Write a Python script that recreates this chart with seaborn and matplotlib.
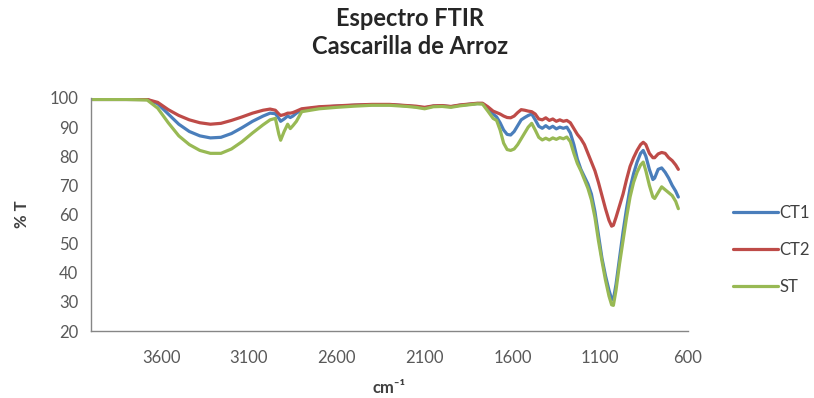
import numpy as np
import pandas as pd
import matplotlib
matplotlib.use("Agg")
import matplotlib.pyplot as plt
import seaborn as sns

# Wavenumber grid (cm-1), shared by all three spectra
wavenumber = [
    4000, 3800, 3680, 3620, 3560, 3500, 3440, 3380, 3320, 3260,
    3200, 3140, 3080, 3020, 2980, 2950, 2930, 2920, 2900, 2880,
    2865, 2850, 2830, 2800, 2700, 2600, 2500, 2400, 2300, 2200,
    2150, 2100, 2050, 2000, 1950, 1900, 1800, 1770, 1740, 1710,
    1690, 1670, 1650, 1630, 1610, 1590, 1570, 1550, 1530, 1510,
    1490, 1470, 1450, 1430, 1410, 1390, 1370, 1350, 1330, 1310,
    1290, 1270, 1250, 1230, 1210, 1190, 1170, 1150, 1130, 1110,
    1090, 1070, 1050, 1035, 1025, 1010, 990, 970, 950, 930,
    910, 890, 870, 855, 840, 820, 800, 790, 770, 750,
    730, 710, 690, 670, 655,
]

# Transmittance (%T) for each sample
ct1 = [
    99.5, 99.5, 99.5, 98.0, 94.5, 91.0, 88.5, 87.0, 86.3, 86.5,
    87.8, 89.8, 92.0, 93.8, 94.8, 94.6, 93.0, 92.0, 92.8, 93.8,
    93.3, 93.8, 94.8, 96.0, 96.8, 97.2, 97.5, 97.7, 97.7, 97.3,
    97.0, 96.6, 97.2, 97.3, 97.0, 97.5, 98.1, 98.1, 96.5, 94.5,
    93.5, 91.5, 89.0, 87.5, 87.3, 88.5, 90.5, 92.5, 93.3, 94.0,
    94.5, 92.5, 90.3, 89.6, 90.5, 89.6, 90.3, 89.4, 90.0, 89.6,
    90.0, 88.0, 84.0, 79.0, 75.5, 73.0, 70.5, 67.0, 61.0, 53.0,
    45.0, 39.0, 34.0, 31.0, 30.8, 36.0, 45.0, 54.0, 62.0, 69.0,
    74.0, 78.0, 81.0, 82.0, 80.0, 75.5, 72.0, 72.5, 75.5, 76.0,
    74.5, 72.5, 70.0, 68.0, 66.0,
]
ct2 = [
    99.5, 99.5, 99.5, 98.5, 96.0, 94.0, 92.5, 91.5, 91.0, 91.3,
    92.3, 93.5, 94.8, 95.8, 96.2, 95.8, 94.5, 94.0, 94.3, 94.8,
    94.8, 95.0, 95.5, 96.3, 97.0, 97.3, 97.6, 97.8, 97.8, 97.4,
    97.2, 96.8, 97.3, 97.4, 97.1, 97.6, 98.2, 98.2, 97.0, 95.5,
    95.0, 94.5, 93.8, 93.3, 93.2, 93.8, 95.0, 96.0, 95.8, 95.5,
    95.3, 94.5, 92.8, 92.5, 93.2, 92.3, 92.8, 92.0, 92.5, 92.0,
    92.3, 91.5, 89.5, 87.5, 86.0, 84.0, 81.0, 78.0, 75.0, 71.0,
    66.5, 62.0, 58.0, 56.0, 56.3, 59.0, 63.0, 67.0, 72.0, 76.5,
    79.5, 82.0, 84.0, 84.8, 84.0, 81.0, 79.5, 79.5, 80.8, 81.3,
    81.0, 79.5, 78.5, 77.0, 75.5,
]
st = [
    99.5, 99.5, 99.3, 96.5, 91.5, 87.0, 84.0, 82.0, 81.0, 81.0,
    82.5, 85.0, 88.0, 90.8, 92.5, 93.0, 87.5, 85.5, 88.5, 91.0,
    89.5, 90.5, 92.0, 95.3, 96.3, 96.8, 97.2, 97.5, 97.5, 97.1,
    96.8, 96.3, 97.0, 97.1, 96.8, 97.3, 98.0, 97.9, 95.5, 93.0,
    92.3, 89.0, 84.5, 82.3, 82.0, 82.5, 84.0, 86.0, 88.0, 90.0,
    91.3, 89.0, 86.5, 85.6, 86.2, 85.6, 86.3, 85.8, 86.4, 86.0,
    86.6, 85.0, 81.0, 77.5, 75.0, 72.0, 69.0, 65.0, 59.0, 51.0,
    44.0, 37.5, 32.0, 29.0, 28.8, 34.0, 43.0, 51.0, 59.0, 66.0,
    71.0, 74.5, 77.0, 78.0, 75.0, 70.0, 66.0, 65.5, 67.5, 69.5,
    68.5, 67.5, 66.5, 64.5, 62.0,
]

series = ["CT1", "CT2", "ST"]
colors = ["#4A7EBB", "#BE4B48", "#98B954"]
x_ticks = [3600, 3100, 2600, 2100, 1600, 1100, 600]
y_ticks = [20, 30, 40, 50, 60, 70, 80, 90, 100]

df = pd.concat(
    [pd.DataFrame({"wavenumber": wavenumber, "T": vals, "sample": name})
     for name, vals in zip(series, [ct1, ct2, st])],
    ignore_index=True,
)

sns.set_theme(style="white")
plt.rcParams["font.family"] = ["Lato", "DejaVu Sans"]

fig = plt.figure(figsize=(8.14, 3.98), dpi=100)
ax = fig.add_axes([91 / 814, 1 - 331 / 398, (688 - 91) / 814, (331 - 98) / 398])

sns.lineplot(
    data=df, x="wavenumber", y="T", hue="sample", hue_order=series,
    palette=colors, linewidth=2.3, sort=False, estimator=None, ax=ax,
    legend=True,
)

ax.set_xlim(4000, 600)
ax.set_ylim(20, 100)
ax.set_xticks(x_ticks)
ax.set_yticks(y_ticks)
ax.tick_params(axis="both", labelsize=12, colors="#595959", length=5,
               width=1, direction="out", pad=4)
ax.tick_params(axis="x", pad=9)
for side in ["top", "right"]:
    ax.spines[side].set_visible(False)
for side in ["left", "bottom"]:
    ax.spines[side].set_color("#868686")
    ax.spines[side].set_linewidth(1)
ax.tick_params(axis="both", color="#868686")

ax.set_xlabel("cm⁻¹", fontsize=12, fontweight="bold", color="#404040",
              labelpad=10)
ax.set_ylabel("% T", fontsize=12, fontweight="bold", color="#404040",
              labelpad=14)

handles, labels = ax.get_legend_handles_labels()
ax.get_legend().remove()
leg = fig.legend(handles, labels, loc="center left",
                 bbox_to_anchor=(733 / 814, 1 - 250 / 398), frameon=False,
                 fontsize=12, handlelength=2.7, handletextpad=0.1,
                 labelspacing=1.25, borderpad=0, borderaxespad=0)
for t in leg.get_texts():
    t.set_color("#404040")

fig.text(0.504, 1 - 18 / 398, "Espectro FTIR", ha="center", va="center",
         fontsize=17, fontweight="bold", color="#262626")
fig.text(0.504, 1 - 47 / 398, "Cascarilla de Arroz", ha="center",
         va="center", fontsize=17, fontweight="bold", color="#262626")

fig.savefig("out.png", dpi=100)
